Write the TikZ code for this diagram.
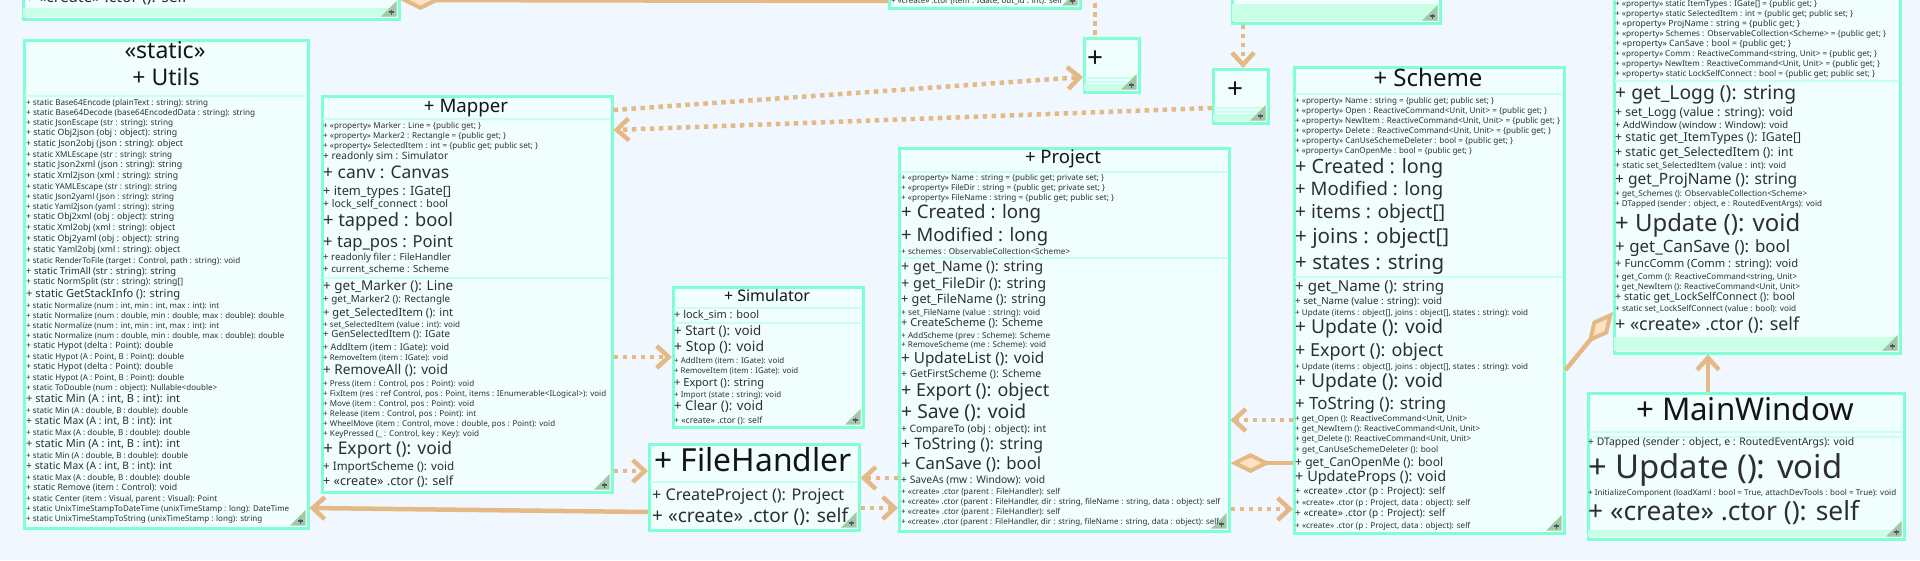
\documentclass[tikz,border=0pt]{standalone}
\usepackage{fontspec}
\setmainfont{Noto Sans}
\usepackage{graphicx}
\usetikzlibrary{arrows.meta}
\definecolor{bgc}{HTML}{F0F7FF}
\definecolor{boxfill}{HTML}{F0FFFE}
\definecolor{boxline}{HTML}{80FFD4}
\definecolor{sepc}{HTML}{C8FFEE}
\definecolor{stripc}{HTML}{C8FFE6}
\definecolor{cornerc}{HTML}{A0CBA0}
\definecolor{plusc}{HTML}{5C4D8A}
\definecolor{conn}{HTML}{E4B985}
\definecolor{peach}{HTML}{FFE2C4}
\definecolor{txt}{HTML}{2E2E2E}
\definecolor{ttl}{HTML}{141414}
\newcounter{tl}
\newcommand\umw[4]{\stepcounter{tl}\node[mtext] (t\arabic{tl}) at (#1,#2) {\resizebox{#3pt}{!}{#4\vphantom{(g}}};}
\newcommand\umt[4]{\stepcounter{tl}\node[ttext] (t\arabic{tl}) at (#1,#2) {\resizebox{#3pt}{!}{#4\vphantom{(g}}};}
\newcommand\ubox[5]{\node[cbox, minimum width={#4-#2}, minimum height={#5-#3}] (#1) at (#2,#3) {};}
\newcommand\usep[3]{\draw[sepc, line width=2.5pt] ({#1+1.5},#3) -- ({#2-1.5},#3);}
\newcommand\ustrip[4]{\fill[stripc] ({#1+1.3},#3) rectangle ({#2-1.3},{#4-1.3});}
\newcommand\ucorner[2]{\fill[cornerc] ({#1-1.3},{#2-17}) -- ({#1-1.3},{#2-1.3}) -- ({#1-17},{#2-1.3}) -- cycle;
  \draw[plusc, line width=1.3pt] ({#1-9},{#2-6}) -- ({#1-4},{#2-6}) ({#1-6.5},{#2-8.5}) -- ({#1-6.5},{#2-3.5});}
\begin{document}
\begin{tikzpicture}[x=1pt,y=-1pt,
  mtext/.style={anchor=west, inner sep=0pt, text=txt},
  ttext/.style={anchor=center, inner sep=0pt, text=ttl},
  cbox/.style={draw=boxline, fill=boxfill, line width=2.5pt, anchor=north west, inner sep=0pt},
  depl/.style={draw=conn, line width=4.5pt, dash pattern=on 4.5pt off 4.5pt, -{Straight Barb[length=12pt,width=22pt]}},
  dotl/.style={draw=conn, line width=4.5pt, dash pattern=on 4.5pt off 4.5pt},
  solarr/.style={draw=conn, line width=4.5pt, -{Straight Barb[length=12pt,width=22pt]}},
  aggl/.style={draw=conn, line width=4.5pt, {Diamond[length=40pt,width=20pt,fill=peach,line width=4pt]}-}
]
\useasboundingbox (0,0) rectangle (1920,560);
\fill[bgc] (0,0) rectangle (1920,560);

% ---------- top partial boxes ----------
\ubox{tl}{22}{-20}{398}{18}
\ustrip{22}{398}{8}{18}
\ucorner{398}{18}
\umw{25}{-2}{162}{+ «create» .ctor (): self}

\ubox{tm}{888}{-20}{1079}{7}
\ucorner{1079}{7}
\umw{891}{1}{171}{+ «create» .ctor (item : IGate, out\_id : int): self}

\ubox{tr}{1231}{-20}{1439}{22}
\ustrip{1231}{1439}{4}{22}
\ucorner{1439}{22}

% ---------- small boxes ----------
\ubox{b1}{1083}{37}{1138}{91}
\usep{1083}{1138}{78}
\usep{1083}{1138}{82}
\ustrip{1083}{1138}{84}{91}
\ucorner{1138}{91}
\node[ttext, font=\fontsize{28}{28}\selectfont] (p1) at (1095,59.5) {+};

\ubox{b2}{1212}{68}{1267}{122}
\usep{1212}{1267}{108}
\usep{1212}{1267}{112}
\ustrip{1212}{1267}{114}{122}
\ucorner{1267}{122}
\node[ttext, font=\fontsize{28}{28}\selectfont] (p2) at (1235,90) {+};

% ---------- Utils ----------
\ubox{utils}{23}{39}{307}{527}
\usep{23}{307}{96}
\ucorner{307}{527}
\umt{165}{53}{81}{«static»}
\umt{166}{80}{67}{+ Utils}
\umw{26}{103}{182}{+ static Base64Encode (plainText : string): string}
\umw{26}{113}{229}{+ static Base64Decode (base64EncodedData : string): string}
\umw{26}{123}{147}{+ static JsonEscape (str : string): string}
\umw{26}{133}{151}{+ static Obj2json (obj : object): string}
\umw{26}{144}{157}{+ static Json2obj (json : string): object}
\umw{26}{155}{146}{+ static XMLEscape (str : string): string}
\umw{26}{165}{156}{+ static Json2xml (json : string): string}
\umw{26}{176}{152}{+ static Xml2json (xml : string): string}
\umw{26}{187}{151}{+ static YAMLEscape (str : string): string}
\umw{26}{197}{148}{+ static Json2yaml (json : string): string}
\umw{26}{207}{148}{+ static Yaml2json (yaml : string): string}
\umw{26}{217}{148}{+ static Obj2xml (obj : object): string}
\umw{26}{228}{149}{+ static Xml2obj (xml : string): object}
\umw{26}{239}{153}{+ static Obj2yaml (obj : object): string}
\umw{26}{250}{154}{+ static Yaml2obj (xml : string): object}
\umw{26}{261}{214}{+ static RenderToFile (target : Control, path : string): void}
\umw{26}{272}{150}{+ static TrimAll (str : string): string}
\umw{26}{282}{157}{+ static NormSplit (str : string): string[]}
\umw{26}{295}{154}{+ static GetStackInfo (): string}
\umw{26}{306}{193}{+ static Normalize (num : int, min : int, max : int): int}
\umw{26}{316}{258}{+ static Normalize (num : double, min : double, max : double): double}
\umw{26}{326}{193}{+ static Normalize (num : int, min : int, max : int): int}
\umw{26}{336}{258}{+ static Normalize (num : double, min : double, max : double): double}
\umw{26}{346}{147}{+ static Hypot (delta : Point): double}
\umw{26}{357}{158}{+ static Hypot (A : Point, B : Point): double}
\umw{26}{367}{147}{+ static Hypot (delta : Point): double}
\umw{26}{378}{158}{+ static Hypot (A : Point, B : Point): double}
\umw{26}{388}{191}{+ static ToDouble (num : object): Nullable<double>}
\umw{26}{400}{154}{+ static Min (A : int, B : int): int}
\umw{26}{411}{162}{+ static Min (A : double, B : double): double}
\umw{26}{422}{146}{+ static Max (A : int, B : int): int}
\umw{26}{433}{164}{+ static Max (A : double, B : double): double}
\umw{26}{445}{154}{+ static Min (A : int, B : int): int}
\umw{26}{456}{162}{+ static Min (A : double, B : double): double}
\umw{26}{467}{146}{+ static Max (A : int, B : int): int}
\umw{26}{478}{164}{+ static Max (A : double, B : double): double}
\umw{26}{488}{151}{+ static Remove (item : Control): void}
\umw{26}{499}{191}{+ static Center (item : Visual, parent : Visual): Point}
\umw{26}{509}{263}{+ static UnixTimeStampToDateTime (unixTimeStamp : long): DateTime}
\umw{26}{519}{236}{+ static UnixTimeStampToString (unixTimeStamp : long): string}

% ---------- Mapper ----------
\ubox{mapper}{321}{95}{611}{491}
\usep{321}{611}{119}
\usep{321}{611}{278}
\ucorner{611}{491}
\umt{466}{108}{84}{+ Mapper}
\umw{323}{126}{158}{+ «property» Marker : Line = \{public get; \}}
\umw{323}{136}{183}{+ «property» Marker2 : Rectangle = \{public get; \}}
\umw{323}{146}{215}{+ «property» SelectedItem : int = \{public get; public set; \}}
\umw{323}{157}{125}{+ readonly sim : Simulator}
\umw{323}{174}{126}{+ canv : Canvas}
\umw{323}{192}{128}{+ item\_types : IGate[]}
\umw{323}{205}{125}{+ lock\_self\_connect : bool}
\umw{323}{222}{130}{+ tapped : bool}
\umw{323}{243}{130}{+ tap\_pos : Point}
\umw{323}{258}{128}{+ readonly filer : FileHandler}
\umw{323}{270}{126}{+ current\_scheme : Scheme}
\umw{323}{287}{130}{+ get\_Marker (): Line}
\umw{323}{300}{127}{+ get\_Marker2 (): Rectangle}
\umw{323}{314}{130}{+ get\_SelectedItem (): int}
\umw{323}{325}{137}{+ set\_SelectedItem (value : int): void}
\umw{323}{335}{127}{+ GenSelectedItem (): IGate}
\umw{323}{348}{126}{+ AddItem (item : IGate): void}
\umw{323}{358}{125}{+ RemoveItem (item : IGate): void}
\umw{323}{371}{125}{+ RemoveAll (): void}
\umw{323}{384}{151}{+ Press (item : Control, pos : Point): void}
\umw{323}{394}{283}{+ FixItem (res : ref Control, pos : Point, items : IEnumerable<ILogical>): void}
\umw{323}{404}{151}{+ Move (item : Control, pos : Point): void}
\umw{323}{414}{153}{+ Release (item : Control, pos : Point): int}
\umw{323}{424}{232}{+ WheelMove (item : Control, move : double, pos : Point): void}
\umw{323}{434}{156}{+ KeyPressed (\_ : Control, key : Key): void}
\umw{323}{450}{129}{+ Export (): void}
\umw{323}{467}{131}{+ ImportScheme (): void}
\umw{323}{482}{130}{+ «create» .ctor (): self}

% ---------- Simulator ----------
\ubox{sim}{672}{286}{862}{426}
\usep{672}{862}{308}
\usep{672}{862}{323}
\ucorner{862}{426}
\umt{767}{297}{86}{+ Simulator}
\umw{674}{316}{85}{+ lock\_sim : bool}
\umw{674}{332}{87}{+ Start (): void}
\umw{674}{348}{90}{+ Stop (): void}
\umw{674}{361}{110}{+ AddItem (item : IGate): void}
\umw{674}{371}{124}{+ RemoveItem (item : IGate): void}
\umw{674}{384}{90}{+ Export (): string}
\umw{674}{395}{107}{+ Import (state : string): void}
\umw{674}{407}{89}{+ Clear (): void}
\umw{674}{421}{88}{+ «create» .ctor (): self}

% ---------- FileHandler ----------
\ubox{fh}{648}{443}{858}{529}
\usep{648}{858}{482}
\ucorner{858}{529}
\umt{753}{463}{197}{+ FileHandler}
\umw{652}{496}{192}{+ CreateProject (): Project}
\umw{652}{517}{196}{+ «create» .ctor (): self}

% ---------- Project ----------
\ubox{proj}{898}{147}{1228}{530}
\usep{898}{1228}{172}
\usep{898}{1228}{258}
\ucorner{1228}{530}
\umt{1063}{159}{76}{+ Project}
\umw{901}{178}{203}{+ «property» Name : string = \{public get; private set; \}}
\umw{901}{188}{204}{+ «property» FileDir : string = \{public get; private set; \}}
\umw{901}{198}{213}{+ «property» FileName : string = \{public get; public set; \}}
\umw{901}{214}{140}{+ Created : long}
\umw{901}{237}{147}{+ Modified : long}
\umw{901}{252}{169}{+ schemes : ObservableCollection<Scheme>}
\umw{901}{268}{142}{+ get\_Name (): string}
\umw{901}{285}{145}{+ get\_FileDir (): string}
\umw{901}{300}{145}{+ get\_FileName (): string}
\umw{901}{313}{139}{+ set\_FileName (value : string): void}
\umw{901}{324}{142}{+ CreateScheme (): Scheme}
\umw{901}{336}{149}{+ AddScheme (prev : Scheme): Scheme}
\umw{901}{345}{145}{+ RemoveScheme (me : Scheme): void}
\umw{901}{360}{143}{+ UpdateList (): void}
\umw{901}{375}{140}{+ GetFirstScheme (): Scheme}
\umw{901}{392}{148}{+ Export (): object}
\umw{901}{413}{125}{+ Save (): void}
\umw{901}{430}{145}{+ CompareTo (obj : object): int}
\umw{901}{446}{142}{+ ToString (): string}
\umw{901}{465}{140}{+ CanSave (): bool}
\umw{901}{481}{144}{+ SaveAs (mw : Window): void}
\umw{901}{492}{159}{+ «create» .ctor (parent : FileHandler): self}
\umw{901}{502}{319}{+ «create» .ctor (parent : FileHandler, dir : string, fileName : string, data : object): self}
\umw{901}{512}{159}{+ «create» .ctor (parent : FileHandler): self}
\umw{901}{522}{318}{+ «create» .ctor (parent : FileHandler, dir : string, fileName : string, data : object): self}

% ---------- Scheme ----------
\ubox{scheme}{1293}{66}{1563}{532}
\usep{1293}{1563}{94}
\usep{1293}{1563}{277}
\ucorner{1563}{532}
\umt{1428}{80}{109}{+ Scheme}
\umw{1295}{101}{199}{+ «property» Name : string = \{public get; public set; \}}
\umw{1295}{111}{252}{+ «property» Open : ReactiveCommand<Unit, Unit> = \{public get; \}}
\umw{1295}{121}{265}{+ «property» NewItem : ReactiveCommand<Unit, Unit> = \{public get; \}}
\umw{1295}{131}{256}{+ «property» Delete : ReactiveCommand<Unit, Unit> = \{public get; \}}
\umw{1295}{141}{218}{+ «property» CanUseSchemeDeleter : bool = \{public get; \}}
\umw{1295}{151}{177}{+ «property» CanOpenMe : bool = \{public get; \}}
\umw{1295}{168}{148}{+ Created : long}
\umw{1295}{191}{148}{+ Modified : long}
\umw{1295}{214}{150}{+ items : object[]}
\umw{1295}{238}{154}{+ joins : object[]}
\umw{1295}{264}{149}{+ states : string}
\umw{1295}{288}{149}{+ get\_Name (): string}
\umw{1295}{302}{147}{+ set\_Name (value : string): void}
\umw{1295}{313}{233}{+ Update (items : object[], joins : object[], states : string): void}
\umw{1295}{329}{148}{+ Update (): void}
\umw{1295}{352}{148}{+ Export (): object}
\umw{1295}{367}{233}{+ Update (items : object[], joins : object[], states : string): void}
\umw{1295}{383}{148}{+ Update (): void}
\umw{1295}{405}{151}{+ ToString (): string}
\umw{1295}{419}{172}{+ get\_Open (): ReactiveCommand<Unit, Unit>}
\umw{1295}{429}{185}{+ get\_NewItem (): ReactiveCommand<Unit, Unit>}
\umw{1295}{439}{176}{+ get\_Delete (): ReactiveCommand<Unit, Unit>}
\umw{1295}{450}{143}{+ get\_CanUseSchemeDeleter (): bool}
\umw{1295}{463}{148}{+ get\_CanOpenMe (): bool}
\umw{1295}{478}{151}{+ UpdateProps (): void}
\umw{1295}{492}{150}{+ «create» .ctor (p : Project): self}
\umw{1295}{503}{175}{+ «create» .ctor (p : Project, data : object): self}
\umw{1295}{514}{150}{+ «create» .ctor (p : Project): self}
\umw{1295}{526}{175}{+ «create» .ctor (p : Project, data : object): self}

% ---------- right class ----------
\ubox{rc}{1613}{-20}{1899}{352}
\usep{1613}{1899}{81}
\ustrip{1613}{1899}{337}{352}
\ucorner{1899}{352}
\umw{1615}{4}{202}{+ «property» static ItemTypes : IGate[] = \{public get; \}}
\umw{1615}{14}{238}{+ «property» static SelectedItem : int = \{public get; public set; \}}
\umw{1615}{24}{185}{+ «property» ProjName : string = \{public get; \}}
\umw{1615}{34}{271}{+ «property» Schemes : ObservableCollection<Scheme> = \{public get; \}}
\umw{1615}{44}{176}{+ «property» CanSave : bool = \{public get; \}}
\umw{1615}{54}{262}{+ «property» Comm : ReactiveCommand<string, Unit> = \{public get; \}}
\umw{1615}{64}{265}{+ «property» NewItem : ReactiveCommand<Unit, Unit> = \{public get; \}}
\umw{1615}{74}{260}{+ «property» static LockSelfConnect : bool = \{public get; public set; \}}
\umw{1615}{95}{181}{+ get\_Logg (): string}
\umw{1615}{113}{178}{+ set\_Logg (value : string): void}
\umw{1615}{126}{173}{+ AddWindow (window : Window): void}
\umw{1615}{138}{186}{+ static get\_ItemTypes (): IGate[]}
\umw{1615}{153}{178}{+ static get\_SelectedItem (): int}
\umw{1615}{166}{171}{+ static set\_SelectedItem (value : int): void}
\umw{1615}{181}{182}{+ get\_ProjName (): string}
\umw{1615}{194}{192}{+ get\_Schemes (): ObservableCollection<Scheme>}
\umw{1615}{204}{207}{+ DTapped (sender : object, e : RoutedEventArgs): void}
\umw{1615}{225}{185}{+ Update (): void}
\umw{1615}{248}{175}{+ get\_CanSave (): bool}
\umw{1615}{265}{183}{+ FuncComm (Comm : string): void}
\umw{1615}{277}{182}{+ get\_Comm (): ReactiveCommand<string, Unit>}
\umw{1615}{287}{185}{+ get\_NewItem (): ReactiveCommand<Unit, Unit>}
\umw{1615}{298}{180}{+ static get\_LockSelfConnect (): bool}
\umw{1615}{309}{181}{+ static set\_LockSelfConnect (value : bool): void}
\umw{1615}{326}{184}{+ «create» .ctor (): self}

% ---------- MainWindow ----------
\ubox{mw}{1587}{392}{1903}{538}
\usep{1587}{1903}{432}
\usep{1587}{1903}{437}
\ustrip{1587}{1903}{530}{538}
\ucorner{1903}{538}
\umt{1745}{412}{218}{+ MainWindow}
\umw{1588}{443}{266}{+ DTapped (sender : object, e : RoutedEventArgs): void}
\umw{1588}{470}{254}{+ Update (): void}
\umw{1588}{493}{308}{+ InitializeComponent (loadXaml : bool = True, attachDevTools : bool = True): void}
\umw{1588}{514}{271}{+ «create» .ctor (): self}

% ---------- connectors ----------
\draw[aggl] (tl.east |- 0,0) -- (tm.west |- 0,1);
\coordinate (topfree) at (1095,-6);
\draw[dotl] (topfree) -- (b1.north -| 1095,0);
\draw[depl] (tr.south -| 1243,0) -- (b2.north -| 1243,0);
\draw[depl] (mapper.east |- 0,110) -- (b1.west |- 0,77);
\draw[depl] (b2.west |- 0,108) -- (mapper.east |- 0,130);
\draw[depl] (mapper.east |- 0,357) -- (sim.west |- 0,357);
\draw[depl] (mapper.east |- 0,471) -- (fh.west |- 0,471);
\draw[solarr] (fh.west |- 0,512) -- (utils.east |- 0,508);
\draw[depl] (proj.west |- 0,478) -- (fh.east |- 0,478);
\draw[depl] (fh.east |- 0,508) -- (proj.west |- 0,508);
\draw[depl] (scheme.west |- 0,420) -- (proj.east |- 0,420);
\draw[aggl] (proj.east |- 0,463) -- (scheme.west |- 0,463);
\draw[depl] (proj.east |- 0,509) -- (scheme.west |- 0,509);
\draw[aggl] (rc.west |- 0,312) -- (scheme.east |- 0,370);
\draw[solarr] (mw.north -| 1708,0) -- (rc.south -| 1708,0);
\end{tikzpicture}
\end{document}
